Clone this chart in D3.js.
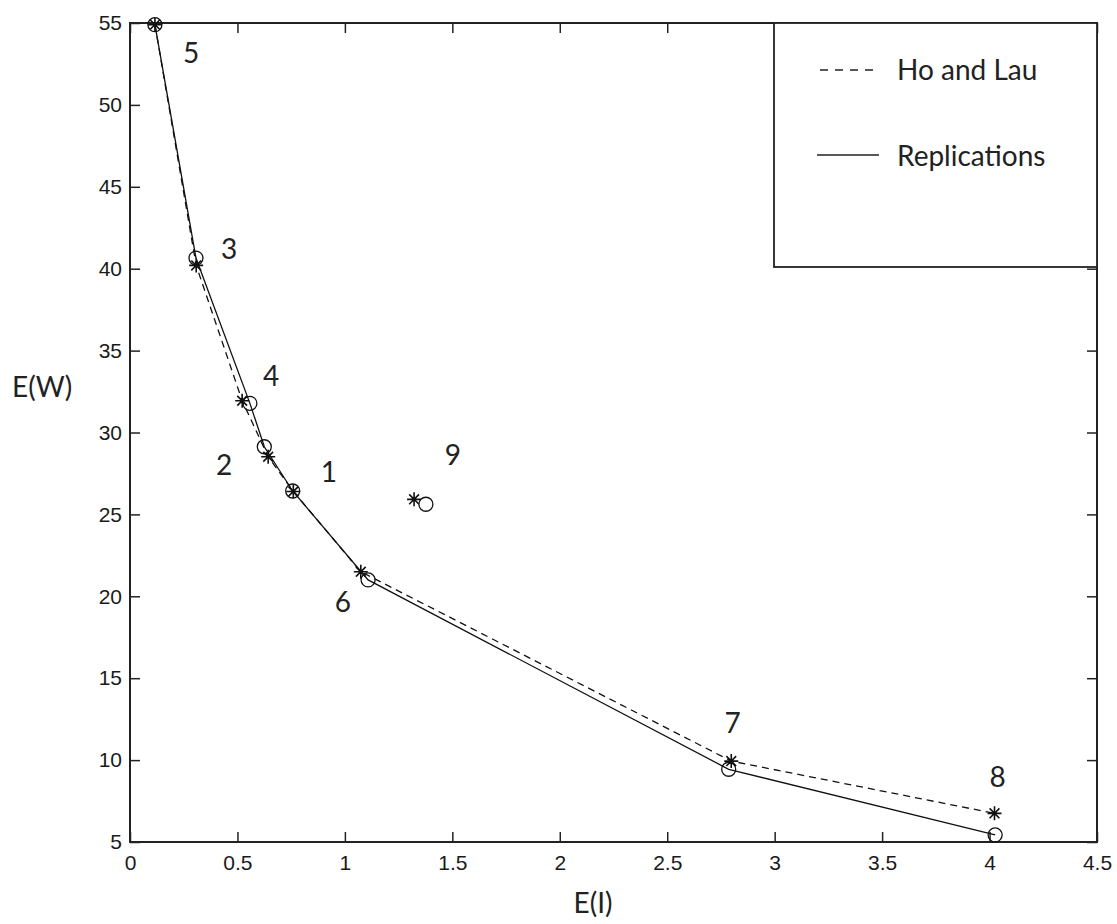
<!DOCTYPE html>
<html lang="en">
<head>
  <meta charset="UTF-8">
  <title>E(W) vs E(I)</title>
  <script src="https://d3js.org/d3.v7.min.js"></script>
  <style>
    body { margin: 0; background: #fff; }
    .tick text { font-family: "Liberation Sans", Arial, sans-serif; font-size: 21px; fill: #1a1a1a; }
    .lbl { font-family: Lato, "Open Sans", sans-serif; font-size: 28px; fill: #222; }
  </style>
</head>
<body>
<div id="chart"></div>
<script>
// point ids, in the order the frontier lines run through them
var ids      = ["5", "3", "4", "2", "1", "6", "7", "8"];
// Replications (circles, solid line)
var repX     = [0.116, 0.307, 0.558, 0.625, 0.757, 1.108, 2.786, 4.026];
var repY     = [54.9, 40.65, 31.78, 29.13, 26.43, 21.0, 9.44, 5.43];
// Ho and Lau (stars, dashed line)
var hlX      = [0.116, 0.308, 0.522, 0.643, 0.760, 1.074, 2.798, 4.023];
var hlY      = [54.9, 40.2, 31.94, 28.52, 26.4, 21.5, 9.94, 6.75];
// point 9 sits off the frontier, drawn with markers only
var rep9     = [1.377, 25.62];
var hl9      = [1.322, 25.92];
// number labels, text(x, y, id) like in the original
var labelIds = ["5", "3", "4", "2", "1", "6", "9", "7", "8"];
var labelX   = [0.247, 0.423, 0.619, 0.400, 0.888, 0.953, 1.465, 2.767, 4.0];
var labelY   = [52.56, 40.62, 32.83, 27.4, 26.97, 19.04, 28.0, 11.65, 8.36];
var xTicks   = [0, 0.5, 1, 1.5, 2, 2.5, 3, 3.5, 4, 4.5];
var yTicks   = [5, 10, 15, 20, 25, 30, 35, 40, 45, 50, 55];

var W = 1117, H = 924;
var margin = {top: 23, right: 20, bottom: 82, left: 130};
var width = W - margin.left - margin.right,
    height = H - margin.top - margin.bottom;

var svg = d3.select("#chart").append("svg")
    .attr("width", W).attr("height", H);
var g = svg.append("g")
    .attr("transform", "translate(" + margin.left + "," + margin.top + ")");

var x = d3.scaleLinear().domain([0, 4.5]).range([0, width]);
var y = d3.scaleLinear().domain([5, 55]).range([height, 0]);

/* ===== axes, MATLAB style: ticks inward on all four sides ===== */
function styleAxis(sel) {
  sel.select(".domain").remove();
  sel.selectAll(".tick line").attr("stroke", "#222").attr("stroke-width", 1.5);
}
g.append("g").attr("transform", "translate(0," + height + ")")
  .call(d3.axisBottom(x).tickValues(xTicks).tickSize(-10).tickPadding(13).tickFormat(String))
  .call(styleAxis);
g.append("g")
  .call(d3.axisTop(x).tickValues(xTicks).tickSize(-10).tickFormat(""))
  .call(styleAxis);
g.append("g")
  .call(d3.axisLeft(y).tickValues(yTicks).tickSize(-10).tickPadding(8).tickFormat(String))
  .call(styleAxis);
g.append("g").attr("transform", "translate(" + width + ",0)")
  .call(d3.axisRight(y).tickValues(yTicks).tickSize(-10).tickFormat(""))
  .call(styleAxis);

g.append("rect").attr("width", width).attr("height", height)
  .attr("fill", "none").attr("stroke", "#222").attr("stroke-width", 2);

/* ===== lines ===== */
var line = d3.line().x(function(d) { return x(d[0]); }).y(function(d) { return y(d[1]); });
var hlPts = hlX.map(function(v, i) { return [v, hlY[i]]; });
var repPts = repX.map(function(v, i) { return [v, repY[i]]; });

g.append("path").datum(hlPts).attr("d", line)
  .attr("fill", "none").attr("stroke", "#111").attr("stroke-width", 1.3)
  .attr("stroke-dasharray", "7,5");
g.append("path").datum(repPts).attr("d", line)
  .attr("fill", "none").attr("stroke", "#111").attr("stroke-width", 1.3);

/* ===== markers ===== */
g.selectAll(".circ").data(repPts.concat([rep9])).enter().append("circle")
  .attr("cx", function(d) { return x(d[0]); })
  .attr("cy", function(d) { return y(d[1]); })
  .attr("r", 7).attr("fill", "none").attr("stroke", "#111").attr("stroke-width", 1.3);

var s = 7;
var star = "M" + (-s) + ",0H" + s + "M0," + (-s) + "V" + s +
  "M" + (-s * 0.7) + "," + (-s * 0.7) + "L" + (s * 0.7) + "," + (s * 0.7) +
  "M" + (-s * 0.7) + "," + (s * 0.7) + "L" + (s * 0.7) + "," + (-s * 0.7);
g.selectAll(".star").data(hlPts.concat([hl9])).enter().append("path")
  .attr("transform", function(d) { return "translate(" + x(d[0]) + "," + y(d[1]) + ")"; })
  .attr("d", star).attr("stroke", "#111").attr("stroke-width", 1.6).attr("fill", "none");

/* ===== number labels ===== */
g.selectAll(".num").data(labelIds).enter().append("text")
  .attr("class", "lbl")
  .attr("x", function(d, i) { return x(labelX[i]); })
  .attr("y", function(d, i) { return y(labelY[i]); })
  .text(function(d) { return d; });

/* ===== axis labels ===== */
svg.append("text").attr("class", "lbl")
  .attr("x", 593).attr("y", 913).attr("text-anchor", "middle").text("E(I)");
svg.append("text").attr("class", "lbl")
  .attr("x", 12).attr("y", 397).text("E(W)");

/* ===== legend ===== */
var leg = svg.append("g").attr("transform", "translate(774,23)");
leg.append("rect").attr("width", 323).attr("height", 244)
  .attr("fill", "#fff").attr("stroke", "#222").attr("stroke-width", 1.8);
leg.append("line").attr("x1", 46).attr("x2", 104).attr("y1", 47).attr("y2", 47)
  .attr("stroke", "#222").attr("stroke-width", 1.3).attr("stroke-dasharray", "8,7");
leg.append("line").attr("x1", 43).attr("x2", 105).attr("y1", 132).attr("y2", 132)
  .attr("stroke", "#222").attr("stroke-width", 1.6);
leg.append("text").attr("class", "lbl").attr("x", 123).attr("y", 57).text("Ho and Lau");
leg.append("text").attr("class", "lbl").attr("x", 123).attr("y", 143).text("Replications");
</script>
</body>
</html>
